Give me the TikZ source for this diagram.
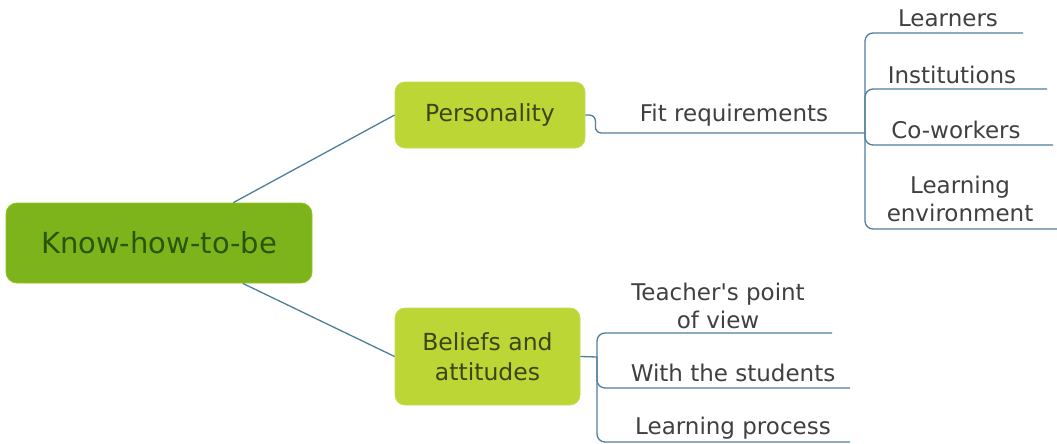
\documentclass[tikz,border=0pt]{standalone}
\usepackage{fontspec}
\setmainfont{DejaVu Sans}[Ligatures=TeXOff]
\definecolor{rootfill}{HTML}{7DB41C}
\definecolor{roottext}{HTML}{2A5509}
\definecolor{subfill}{HTML}{BCD636}
\definecolor{subtext}{HTML}{3C4615}
\definecolor{linec}{HTML}{4F7E9C}
\definecolor{leaftext}{HTML}{404040}
\tikzset{
  rootbox/.style={rectangle, rounded corners=11pt, fill=rootfill, draw=rootfill!80!yellow, line width=0.8pt,
    minimum width=306pt, minimum height=80pt, text=roottext, font=\fontsize{29}{32}\selectfont, inner sep=0pt},
  subbox/.style={rectangle, rounded corners=10pt, fill=subfill, draw=subfill!85!white, line width=0.8pt,
    text=subtext, font=\fontsize{23.5}{30}\selectfont, align=center, inner sep=0pt},
  leaf/.style={text=leaftext, font=\fontsize{23}{28}\selectfont, align=center, inner sep=0pt},
  conn/.style={draw=linec, line width=1.3pt},
  bracket/.style={conn, rounded corners=8pt}
}
\begin{document}
\begin{tikzpicture}[x=1pt,y=-1pt]
\useasboundingbox (0,0) rectangle (1057,444);
% main nodes
\node[rootbox] (root) at (159,243) {Know-how-to-be};
\node[subbox, minimum width=190pt, minimum height=66pt] (pers) at (490,115) {Personality};
\node[subbox, minimum width=185pt, minimum height=97pt] (bel) at (487.5,356.5) {Beliefs and\\attitudes};
% texts
\node[leaf] (fit) at (734,115) {Fit requirements};
\node[leaf] (l1) at (948,18) {Learners};
\node[leaf] (l2) at (952,75) {Institutions};
\node[leaf] (l3) at (956,130) {Co-workers};
\node[leaf] (l4) at (960,199) {Learning\\environment};
\node[leaf] (b1) at (718,306) {Teacher's point\\of view};
\node[leaf] (b2) at (733,373) {With the students};
\node[leaf] (b3) at (733,428) {Learning process};
% junctions and line ends
\coordinate (fj) at (865,133);
\coordinate (e1) at (1023,33);
\coordinate (e2) at (1047,89);
\coordinate (e3) at (1053,145);
\coordinate (e4) at (1057,229);
\coordinate (bj) at (597,357);
\coordinate (f1) at (832,333);
\coordinate (f2) at (850,388);
\coordinate (f3) at (850,442);
% connectors
\draw[conn] (pers.west) -- (root);
\draw[conn] (bel.west) -- (root);
\draw[conn, rounded corners=6pt] (pers.east) -- ++(10,0) |- (fj);
\draw[bracket] (fj) |- (e1);
\draw[bracket] (fj) |- (e2);
\draw[bracket] (fj) |- (e3);
\draw[bracket] (fj) |- (e4);
\draw[conn] (bel.east) -- (bj);
\draw[bracket] (bj) |- (f1);
\draw[bracket] (bj) |- (f2);
\draw[bracket] (bj) |- (f3);
\end{tikzpicture}
\end{document}
